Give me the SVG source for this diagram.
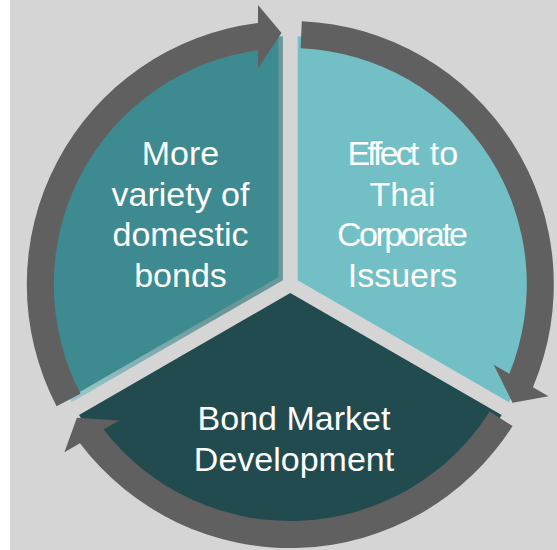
<svg xmlns="http://www.w3.org/2000/svg" width="557" height="550" viewBox="0 0 557 550">
<defs>
<style>
.lbl{font-family:"Liberation Sans",Arial,sans-serif;font-size:34px;fill:#ffffff;text-anchor:middle}
.arrow{fill:#606060}
</style>
<linearGradient id="strip" gradientUnits="userSpaceOnUse" x1="0" y1="35" x2="0" y2="150">
<stop offset="0" stop-color="#6c9799"/>
<stop offset="1" stop-color="#a9d8dc"/>
</linearGradient>
<path id="arr" d="M-233.73,121.67 A263.5,263.5 0 0 1 -32.3,-261.51 L-32.3,-279.5 L-8.8,-251.5 L-32.3,-216.2 L-32.3,-234.28 A236.5,236.5 0 0 0 -209.78,109.2 Z"/>
</defs>
<rect x="0" y="0" width="557" height="550" fill="#ffffff"/>
<rect x="10" y="0" width="547" height="550" fill="#d5d5d5"/>
<g transform="translate(290.3,284.5)">
<g id="node-left">
<path transform="translate(-7.36,-4.25)" d="M0,0 L-211.31,122 A244,244 0 0 1 0,-244 Z" fill="url(#strip)"/>
<path transform="translate(-11.96,-7.25)" d="M0,0 L-211.31,122 A244,244 0 0 1 0,-244 Z" fill="#3d8a90"/>
</g>
<g id="node-right">
<path transform="translate(7.36,-4.25)" d="M0,0 L0,-244 A244,244 0 0 1 211.31,122 Z" fill="#72bfc6"/>
</g>
<g id="node-bottom">
<path transform="translate(0,8.5)" d="M0,0 L211.31,122 A244,244 0 0 1 -211.31,122 Z" fill="#224b4f"/>
</g>
<g id="connectors">
<use href="#arr" class="arrow"/>
<use href="#arr" class="arrow" transform="rotate(120)"/>
<use href="#arr" class="arrow" transform="rotate(240)"/>
</g>
</g>
<g id="label-left">
<text class="lbl" x="180.5" y="165">More</text>
<text class="lbl" x="180.5" y="205.5">variety of</text>
<text class="lbl" x="180.5" y="246">domestic</text>
<text class="lbl" x="180.5" y="286.5">bonds</text>
</g>
<g id="label-right">
<text class="lbl" y="165" style="text-anchor:start"><tspan x="347.4" letter-spacing="-2.9">Effect</tspan> <tspan x="429.8">to</tspan></text>
<text class="lbl" x="402.5" y="205.5">Thai</text>
<text class="lbl" x="402.5" y="246" textLength="131" lengthAdjust="spacing">Corporate</text>
<text class="lbl" x="402.5" y="286.5">Issuers</text>
</g>
<g id="label-bottom">
<text class="lbl" x="294" y="430">Bond Market</text>
<text class="lbl" x="294" y="471">Development</text>
</g>
</svg>
